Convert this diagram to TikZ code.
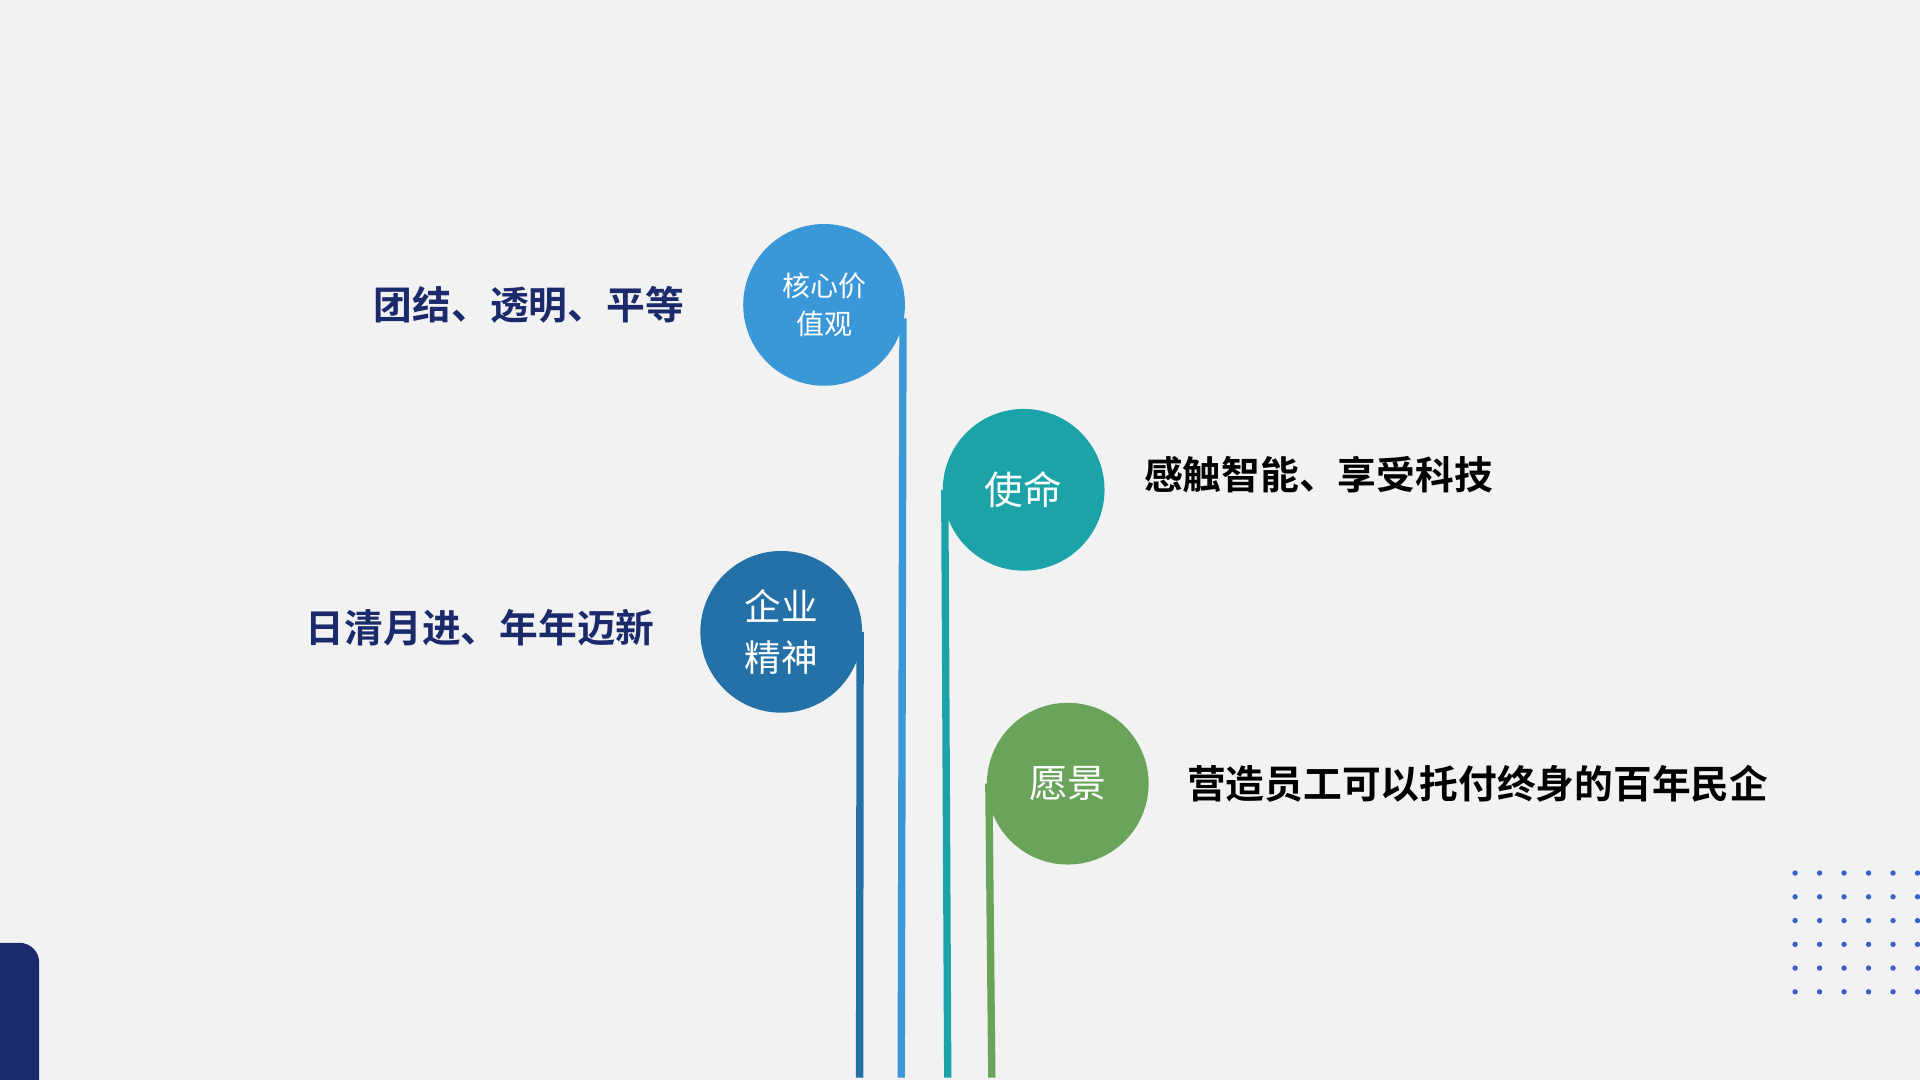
\documentclass[tikz,border=0pt]{standalone}
\usepackage{fontspec}
\newfontfamily\cjk{Noto Sans CJK SC}
\newfontfamily\cjkb{Noto Sans CJK SC Bold}
\usetikzlibrary{positioning}
\definecolor{bg}{HTML}{F2F2F2}
\definecolor{cA}{HTML}{3A97D8}
\definecolor{cB}{HTML}{1BA3A8}
\definecolor{cC}{HTML}{2471A8}
\definecolor{cD}{HTML}{6AA35A}
\definecolor{navy}{HTML}{1B2A6B}
\definecolor{dots}{HTML}{3A5FC8}
\begin{document}
\begin{tikzpicture}[x=0.01cm, y=-0.01cm, thick,
  main/.style = {circle, minimum size=1.32cm, inner sep=0pt, text=white, align=center, font=\cjk},
  stem/.style = {line width=0.06cm},
  lbl/.style = {font=\cjkb\fontsize{9}{11}\selectfont, inner sep=0pt}]
\fill[bg] (0,0) rectangle (1568,882);
\useasboundingbox (0,0) rectangle (1568,882);
\fill[navy, rounded corners=0.16cm] (-20,770) rectangle (32,900);
\foreach \i in {0,...,5} \foreach \j in {0,...,5}
  \fill[dots] (1466+\i*20,713+\j*19.4) circle (0.022cm);

\node[main, fill=cA, font=\cjk\fontsize{6.5}{9}\selectfont] (1) at (673,249) {核心价\\值观};
\node[main, fill=cB, font=\cjk\fontsize{9}{11}\selectfont] (2) at (836,400) {使命};
\node[main, fill=cC, font=\cjk\fontsize{8.5}{12}\selectfont] (3) at (638,516) {企业\\精神};
\node[main, fill=cD, font=\cjk\fontsize{9}{11}\selectfont] (4) at (872,640) {愿景};

\coordinate (b1) at (736,880);
\coordinate (b2) at (774,880);
\coordinate (b3) at (702,880);
\coordinate (b4) at (810,880);
\draw[stem, cA] (1.east |- 0,260) ++(-3,0) -- (b1);
\draw[stem, cB] (2.west) ++(3,0) -- (b2);
\draw[stem, cC] (3.east) ++(-3,0) -- (b3);
\draw[stem, cD] (4.west) ++(3,0) -- (b4);

\node[lbl, text=navy, anchor=east] (t1) at (560,249) {团结、透明、平等};
\node[lbl, anchor=west] (t2) at (933,388) {感触智能、享受科技};
\node[lbl, text=navy, anchor=east] (t3) at (536,513) {日清月进、年年迈新};
\node[lbl, anchor=west] (t4) at (968,640) {营造员工可以托付终身的百年民企};
\end{tikzpicture}
\end{document}
